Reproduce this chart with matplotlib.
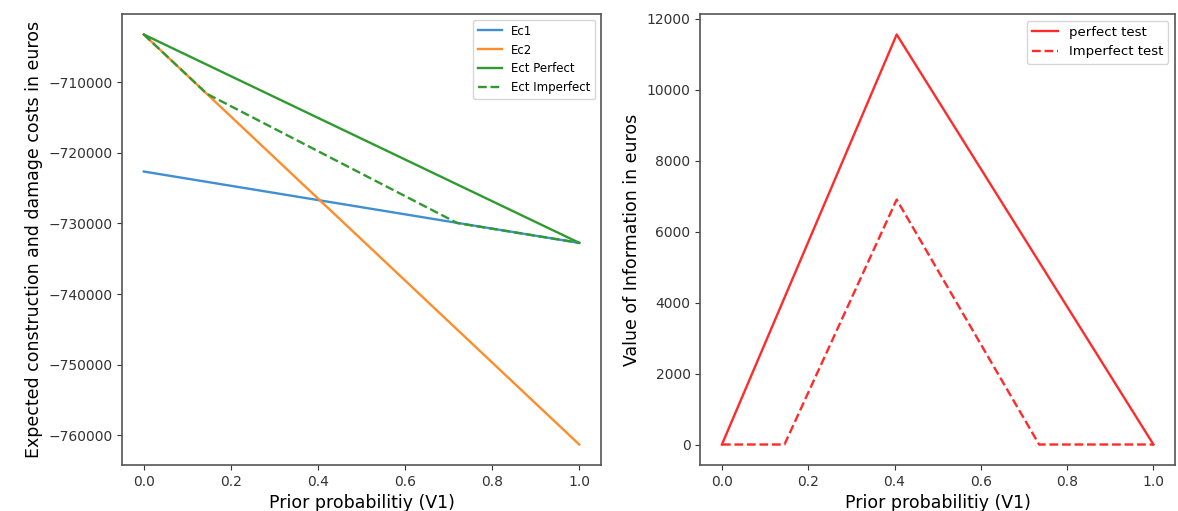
import matplotlib.pyplot as plt

# prior probability of V1
p = [0.0, 1.0]
ec1 = [-722650, -732750]
ec2 = [-703250, -761300]

p_perfect = [0.0, 1.0]
ect_perfect = [-703250, -732750]

p_imperfect = [0.0, 0.145, 0.72, 1.0]
ect_imperfect = [-703250, -711650, -729950, -732750]

p_voi = [0.0, 0.405, 1.0]
voi_perfect = [0, 11550, 0]

p_voi_imp = [0.0, 0.145, 0.405, 0.735, 1.0]
voi_imperfect = [0, 0, 6900, 0, 0]

fig = plt.figure(figsize=(11.78, 5.11), dpi=100)
ax1 = fig.add_axes([0.1036, 0.09, 0.4066, 0.8826])
ax2 = fig.add_axes([0.5945, 0.09, 0.4030, 0.8826])

lw = 1.7
# left: expected costs
ax1.plot(p, ec1, color='#3f8fd2', lw=lw, label='Ec1')
ax1.plot(p, ec2, color='#ff8c2a', lw=lw, label='Ec2')
ax1.plot(p_perfect, ect_perfect, color='#2f9a2f', lw=lw, label='Ect Perfect')
ax1.plot(p_imperfect, ect_imperfect, color='#2f9a2f', lw=lw, linestyle='--', label='Ect Imperfect')
ax1.set_xlabel('Prior probabilitiy (V1)', fontsize=12.5)
ax1.set_ylabel('Expected construction and damage costs in euros', fontsize=12.5)
ax1.set_yticks([-710000, -720000, -730000, -740000, -750000, -760000])
ax1.tick_params(labelsize=10, colors='#333333')
ax1.legend(loc='upper right', fontsize=8.5)

# right: value of information
ax2.plot(p_voi, voi_perfect, color='#ff2a2a', lw=lw, label='perfect test')
ax2.plot(p_voi_imp, voi_imperfect, color='#ff2a2a', lw=lw, linestyle='--', label='Imperfect test')
ax2.set_xlabel('Prior probabilitiy (V1)', fontsize=12.5)
ax2.set_ylabel('Value of Information in euros', fontsize=12.5)
ax2.set_yticks([0, 2000, 4000, 6000, 8000, 10000, 12000])
ax2.tick_params(labelsize=10, colors='#333333')
ax2.legend(loc='upper right', fontsize=9.5)

for ax in (ax1, ax2):
    for s in ax.spines.values():
        s.set_color('#555555')
        s.set_linewidth(1.2)

fig.savefig('out.png', dpi=100)
